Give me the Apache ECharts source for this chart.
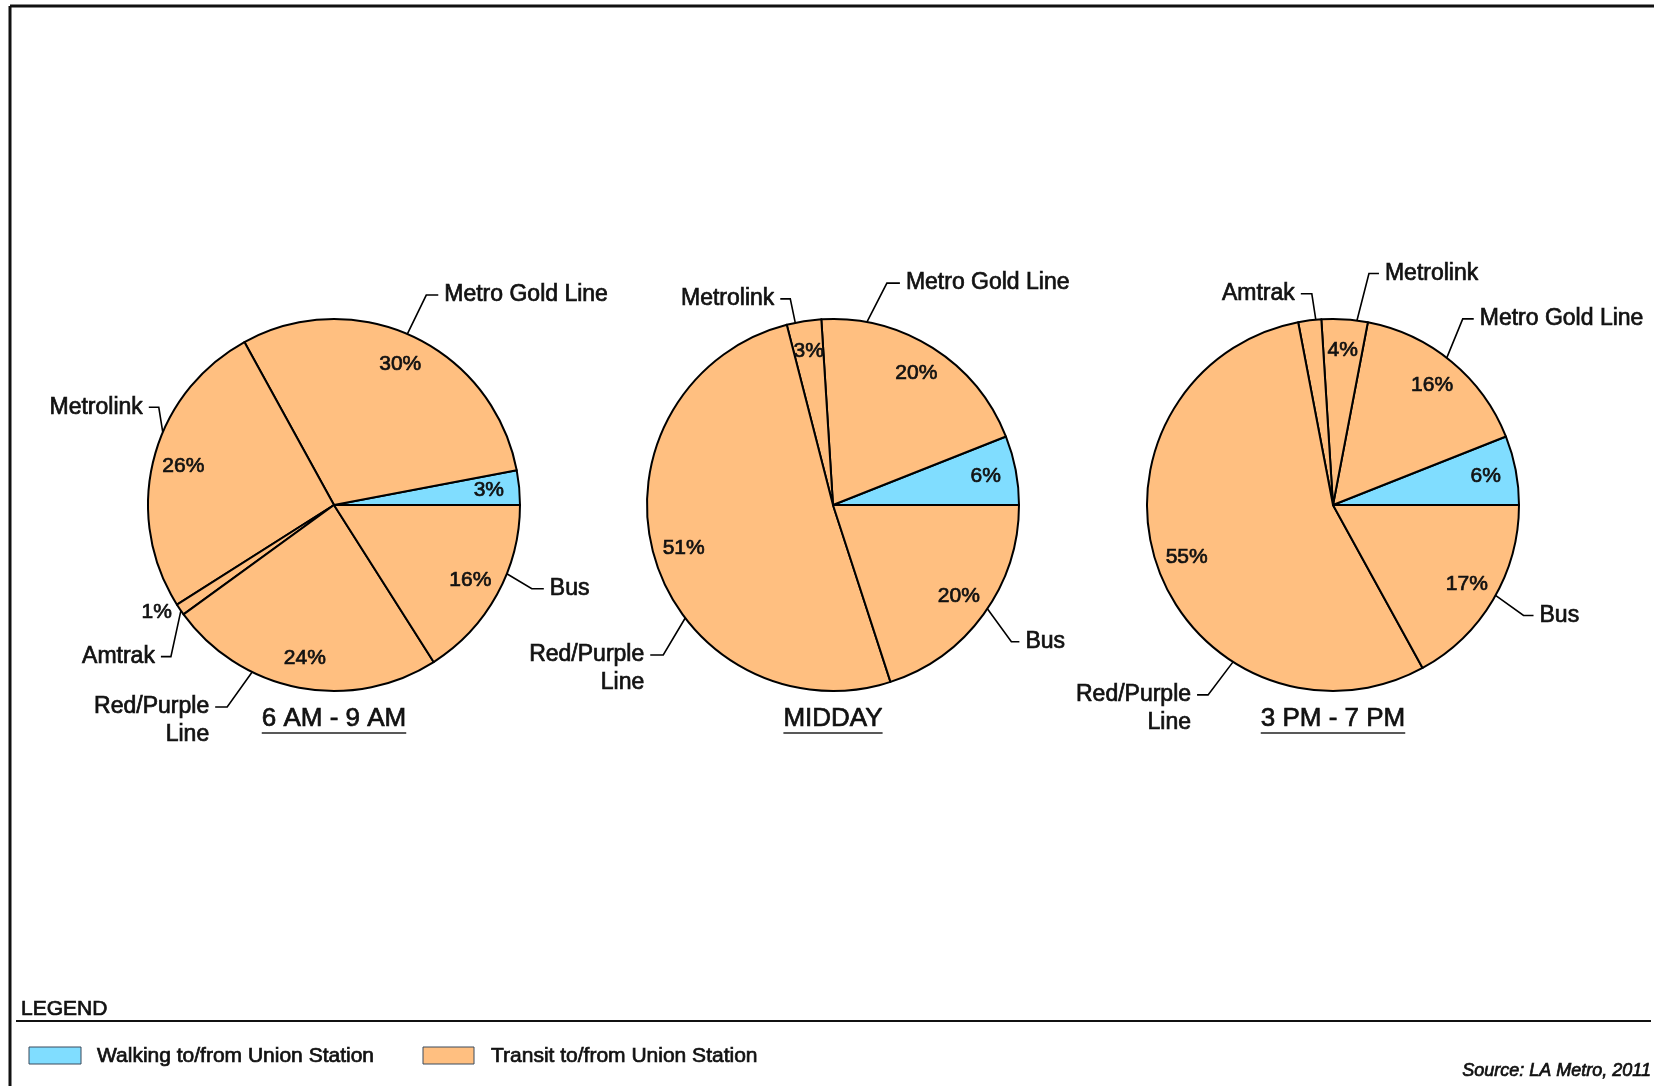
<!DOCTYPE html>
<html><head><meta charset="utf-8">
<script src="https://cdn.jsdelivr.net/npm/echarts@6/dist/echarts.min.js"></script>
<style>html,body{margin:0;padding:0;background:#fff}#c{width:1654px;height:1086px}</style>
</head><body><div id="c"></div>
<script>
// ---------- DATA ----------
const categories = ['Walking', 'Metro Gold Line', 'Metrolink', 'Amtrak', 'Red/Purple Line', 'Bus'];
const periods = ['6 AM - 9 AM', 'MIDDAY', '3 PM - 7 PM'];
const amValues = [3, 30, 26, 1, 24, 16];
const middayValues = [6, 20, 3, 0, 51, 20];
const pmValues = [6, 16, 4, 2, 55, 17];
const legendLabels = ['Walking to/from Union Station', 'Transit to/from Union Station'];
const legendTitle = 'LEGEND';
const sourceText = 'Source: LA Metro, 2011';

// ---------- STYLE / LAYOUT ----------
const FONT = '"Liberation Sans", Arial, Helvetica, sans-serif';
const BLUE = '#80DDFF', ORANGE = '#FFBF80', INK = '#111111';
const STROKE_W = 0.7; // emulate the heavier print weight of the original
const CENTERS = [[334, 505], [833, 505], [1333, 505]];
const R = 186;
// leader line geometry: start angle on the rim (deg), elbow offset, horizontal tick
const LEADERS = [
  { 'Metro Gold Line': {a: 66.8, dx: 19, dy: -39, t: 12}, 'Metrolink': {a: 157, dx: -4, dy: -25, t: -10},
    'Amtrak': {a: 214.6, dx: -10, dy: 46, t: -10}, 'Red/Purple Line': {a: 243.9, dx: -25, dy: 35, t: -12},
    'Bus': {a: 338.3, dx: 25, dy: 15, t: 12} },
  { 'Metrolink': {a: 101.7, dx: -5, dy: -24, t: -10}, 'Metro Gold Line': {a: 79.5, dx: 20, dy: -39, t: 13},
    'Bus': {a: 326.1, dx: 24, dy: 33, t: 8}, 'Red/Purple Line': {a: 217.4, dx: -22, dy: 37, t: -13} },
  { 'Amtrak': {a: 95.3, dx: -4, dy: -26, t: -11}, 'Metrolink': {a: 82.6, dx: 12, dy: -47, t: 10},
    'Metro Gold Line': {a: 52.3, dx: 16, dy: -39, t: 11}, 'Bus': {a: 330.9, dx: 28, dy: 20, t: 10},
    'Red/Purple Line': {a: 237.5, dx: -25, dy: 33, t: -11} }
];

const allValues = [amValues, middayValues, pmValues];
const series = [];

allValues.forEach(function (vals, p) {
  const list = [];
  vals.forEach(function (v, i) { if (v > 0) list.push({name: categories[i], value: v, walk: i === 0}); });
  const cx = CENTERS[p][0], cy = CENTERS[p][1];

  // visible slices with name labels
  series.push({
    type: 'pie', center: [cx, cy], radius: R, startAngle: 0, clockwise: false,
    avoidLabelOverlap: false, silent: true, animation: false,
    itemStyle: {borderColor: '#000', borderWidth: 2},
    label: {show: true, position: 'outside', color: INK, fontFamily: FONT, fontSize: 23, lineHeight: 28,
      textBorderColor: INK, textBorderWidth: STROKE_W,
      formatter: function (d) { return d.name.replace('Red/Purple ', 'Red/Purple\n'); }},
    labelLine: {show: true, length: 10, length2: 10, lineStyle: {color: '#000', width: 1.6}},
    data: list.map(function (d) {
      return {name: d.name, value: d.value, itemStyle: {color: d.walk ? BLUE : ORANGE},
        label: {show: !d.walk}, labelLine: {show: !d.walk}};
    }),
    labelLayout: function (params) {
      const name = list[params.dataIndex].name;
      const g = LEADERS[p][name];
      if (!g) return {};
      const rad = g.a * Math.PI / 180;
      const sx = cx + R * Math.cos(rad), sy = cy - R * Math.sin(rad);
      const ex = sx + g.dx, ey = sy + g.dy, tx = ex + g.t;
      const right = g.t > 0;
      return {x: tx + (right ? 6 : -6), y: ey - 14, align: right ? 'left' : 'right', verticalAlign: 'top',
        labelLinePoints: [[sx, sy], [ex, ey], [tx, ey]]};
    }
  });

  // transparent ring carrying the percentage labels
  series.push({
    type: 'pie', center: [cx, cy], radius: [R * 0.64, R], startAngle: 0, clockwise: false,
    avoidLabelOverlap: false, silent: true, animation: false, z: 5,
    itemStyle: {color: 'rgba(0,0,0,0)', borderWidth: 0},
    label: {show: true, position: 'inside', color: INK, fontFamily: FONT, fontSize: 21, formatter: '{c}%',
      textBorderColor: INK, textBorderWidth: STROKE_W},
    labelLine: {show: false},
    data: list.map(function (d) {
      const small = d.value < 2;
      return {name: d.name, value: d.value,
        label: small ? {position: 'outside'} : {},
        labelLine: small ? {show: false, length: 4, length2: 0} : {show: false}};
    })
  });
});

// text measurement for underlines
const mctx = document.createElement('canvas').getContext('2d');
function textW(str, font) { mctx.font = font; return mctx.measureText(str).width; }

function txt(x, y, text, font, align) {
  return {type: 'text', x: x, y: y, style: {text: text, font: font, fill: INK, stroke: INK, lineWidth: STROKE_W,
    align: align, verticalAlign: 'middle', textAlign: align, textVerticalAlign: 'middle'}};
}

const graphic = [];
// frame
graphic.push({type: 'line', shape: {x1: 10, y1: 6, x2: 1654, y2: 6}, style: {stroke: '#111', lineWidth: 3}});
graphic.push({type: 'line', shape: {x1: 10, y1: 6, x2: 10, y2: 1086}, style: {stroke: '#111', lineWidth: 3}});
// period titles with underline
periods.forEach(function (t, p) {
  const cx = CENTERS[p][0];
  const f = '26px ' + FONT;
  const w = textW(t, f);
  graphic.push(txt(cx, 719, t, f, 'center'));
  graphic.push({type: 'line', shape: {x1: cx - w / 2, y1: 733, x2: cx + w / 2, y2: 733}, style: {stroke: '#222', lineWidth: 1.5}});
});
// legend
graphic.push(txt(21, 1009, legendTitle, '21px ' + FONT, 'left'));
graphic.push({type: 'line', shape: {x1: 16, y1: 1021, x2: 1651, y2: 1021}, style: {stroke: '#111', lineWidth: 2}});
graphic.push({type: 'rect', shape: {x: 29, y: 1047, width: 52, height: 17}, style: {fill: BLUE, stroke: '#3a4a5c', lineWidth: 1}});
graphic.push(txt(97, 1056, legendLabels[0], '21px ' + FONT, 'left'));
graphic.push({type: 'rect', shape: {x: 423, y: 1047, width: 51, height: 17}, style: {fill: ORANGE, stroke: '#3a4a5c', lineWidth: 1}});
graphic.push(txt(491, 1056, legendLabels[1], '21px ' + FONT, 'left'));
// source
graphic.push(txt(1651, 1071, sourceText, 'italic 18px ' + FONT, 'right'));

const chart = echarts.init(document.getElementById('c'), null, {renderer: 'canvas'});
chart.setOption({backgroundColor: '#ffffff', animation: false, series: series, graphic: graphic});
</script></body></html>
